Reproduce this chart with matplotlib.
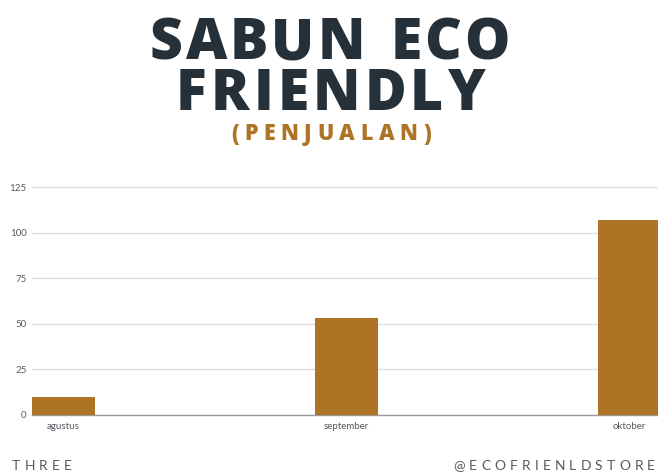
import matplotlib
matplotlib.use("Agg")
from matplotlib import pyplot as plt

months = ["agustus", "september", "oktober"]
sales = [10, 53, 107]
yticks = [0, 25, 50, 75, 100, 125]

BAR = "#ad7426"
DARK = "#263039"
GREY = "#555a60"

W, H = 658, 472


def spaced_text(fig, x0, x1, base, s, **kw):
    # lay out characters one by one so the word fills [x0, x1] pixels
    r = fig.canvas.get_renderer()
    widths = []
    for ch in s:
        t = fig.text(0, 0, ch if ch != " " else "I", **kw)
        widths.append(t.get_window_extent(r).width)
        t.remove()
    gap = (x1 - x0 - sum(widths)) / max(len(s) - 1, 1)
    x = x0
    for ch, w in zip(s, widths):
        if ch != " ":
            fig.text(x / W, 1 - base / H, ch, va="baseline", ha="left", **kw)
        x += w + gap


fig = plt.figure(figsize=(W / 100, H / 100), dpi=100)
ax = fig.add_axes([32 / W, 57 / H, 1 - 32 / W, (415 - 178) / H])

x = range(len(months))
ax.bar(x, sales, width=0.223, color=BAR, zorder=3)
ax.set_xlim(-0.1115, 2.1)
ax.set_ylim(0, 130)
ax.set_yticks(yticks)
ax.set_xticks(list(x))
ax.set_xticklabels(months)
for lbl in ax.get_xticklabels() + ax.get_yticklabels():
    lbl.set_fontfamily("Lato")
ax.tick_params(length=0, labelsize=7, colors=GREY, pad=4)
ax.tick_params(axis="x", pad=5)
ax.grid(axis="y", color="#dcdcdc", linewidth=0.9, zorder=0)
for sp in ["top", "right", "left"]:
    ax.spines[sp].set_visible(False)
ax.spines["bottom"].set_color("#9a9a9a")
ax.spines["bottom"].set_linewidth(1.0)

title_kw = dict(fontfamily="Open Sans", fontweight="heavy", color=DARK, fontsize=41)
spaced_text(fig, 150, 510, 59, "SABUN ECO", **title_kw)
spaced_text(fig, 176, 485, 110, "FRIENDLY", **title_kw)
spaced_text(fig, 231, 431, 140, "(PENJUALAN)",
            fontfamily="Open Sans", fontweight="heavy", color=BAR, fontsize=15.5)

foot_kw = dict(fontfamily="Lato", color=GREY, fontsize=10)
spaced_text(fig, 12, 72, 470, "THREE", **foot_kw)
spaced_text(fig, 453, 655, 470, "@ECOFRIENLDSTORE", **foot_kw)

fig.savefig("out.png", dpi=100)
